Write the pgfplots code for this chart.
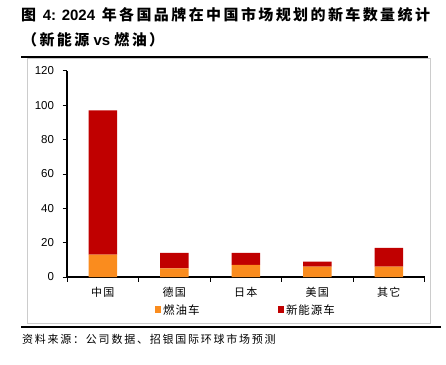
\documentclass[border=0pt]{standalone}
\usepackage{pgfplots}
\pgfplotsset{compat=1.18}
\usepackage{fontspec}
\setmainfont{Liberation Sans}
\newfontfamily\cjk{Noto Sans CJK SC}
\definecolor{fuel}{RGB}{250,140,30}
\definecolor{nev}{RGB}{192,0,0}
\pgfplotstableread{
x fuel nev
0 13 84
1 5 9
2 7 7
3 6 3
4 6 11
}\datatable
\begin{document}
\begin{tikzpicture}
\useasboundingbox (0,0) rectangle (446pt,364pt);
% title
\node[anchor=west,inner sep=0pt] at (21pt,349pt) {\fontsize{15}{18}\selectfont\bfseries{\cjk\addfontfeature{LetterSpace=16}图}\, 4: 2024\, {\cjk\addfontfeature{LetterSpace=16}年各国品牌在中国市场规划的新车数量统计}};
\node[anchor=west,inner sep=0pt] at (22pt,324pt) {\fontsize{15}{18}\selectfont\bfseries{\cjk\addfontfeature{LetterSpace=16}（新能源} vs {\cjk\addfontfeature{LetterSpace=16}燃油）}};
% frame
\draw[black!20,line width=0.8pt] (27.5pt,41pt) rectangle (430.5pt,306pt);
\draw[black,line width=2.6pt] (21pt,307pt) -- (428pt,307pt);
\draw[black,line width=2.6pt] (21pt,37pt) -- (441pt,37pt);
\node[anchor=west,inner sep=0pt] at (22pt,25pt) {\cjk\fontsize{11}{13}\selectfont\addfontfeature{LetterSpace=16}资料来源：公司数据、招银国际环球市场预测};
\begin{axis}[
  at={(67pt,87pt)}, anchor=south west,
  scale only axis, width=357.5pt, height=206pt,
  ybar stacked, bar width=28.5pt,
  xmin=-0.5, xmax=4.5, ymin=0, ymax=120,
  ytick={0,20,...,120},
  xtick={-0.5,0.5,...,4.5},
  x tick label as interval=true,
  xticklabels={中国,德国,日本,美国,其它},
  x tick label style={font=\cjk\fontsize{11}{13}\selectfont\addfontfeature{LetterSpace=12}, yshift=-2pt},
  y tick label style={font=\fontsize{11.5}{13}\selectfont, xshift=-5pt},
  /pgf/number format/assume math mode=true,
  axis x line*=bottom, axis y line*=left,
  axis line style={black,line width=1.1pt},
  tick align=outside,
  major tick length=4.5pt,
  tick style={black,line width=1pt},
  legend style={at={(0.5,-0.16)}, anchor=center, draw=none, fill=none,
    legend columns=2, font=\cjk\fontsize{11.5}{13}\selectfont\addfontfeature{LetterSpace=8},
    /tikz/every even column/.append style={column sep=76pt}},
  legend image code/.code={\fill[#1] (0pt,-3pt) rectangle (6.5pt,3.5pt);},
]
\addplot[fill=fuel,draw=none] table[x=x,y=fuel] {\datatable};
\addlegendentry{燃油车}
\addplot[fill=nev,draw=none] table[x=x,y=nev] {\datatable};
\addlegendentry{新能源车}
\end{axis}
\end{tikzpicture}
\end{document}
